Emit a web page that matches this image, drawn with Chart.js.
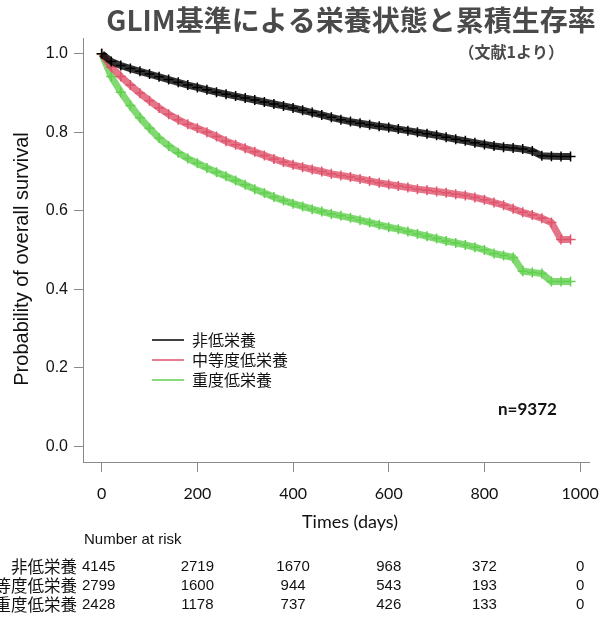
<!DOCTYPE html>
<html>
<head>
<meta charset="utf-8">
<script src="https://cdn.jsdelivr.net/npm/chart.js@4.4.1/dist/chart.umd.min.js"></script>
<style>
  html, body { margin: 0; padding: 0; background: #fff; }
  canvas { display: block; }
</style>
</head>
<body>
<canvas id="km" width="611" height="617"></canvas>
<script>
// survival, every 20 days
const days = [0, 20, 40, 60, 80, 100, 120, 140, 160, 180,
  200, 220, 240, 260, 280, 300, 320, 340, 360, 380,
  400, 420, 440, 460, 480, 500, 520, 540, 560, 580,
  600, 620, 640, 660, 680, 700, 720, 740, 760, 780,
  800, 820, 840, 860, 880, 900, 920, 940, 960, 980];

const survNone = [1.000, 0.980, 0.970, 0.962, 0.955, 0.948, 0.941, 0.934, 0.927, 0.920,
  0.914, 0.908, 0.902, 0.897, 0.892, 0.887, 0.882, 0.877, 0.872, 0.867,
  0.862, 0.856, 0.850, 0.844, 0.838, 0.832, 0.827, 0.823, 0.819, 0.815,
  0.812, 0.808, 0.804, 0.800, 0.796, 0.792, 0.787, 0.782, 0.778, 0.773,
  0.769, 0.765, 0.762, 0.760, 0.757, 0.752, 0.740, 0.739, 0.738, 0.738];

const survModerate = [1.000, 0.966, 0.942, 0.920, 0.899, 0.880, 0.862, 0.846, 0.832, 0.820,
  0.810, 0.800, 0.789, 0.777, 0.768, 0.759, 0.750, 0.741, 0.732, 0.724,
  0.717, 0.711, 0.705, 0.700, 0.694, 0.690, 0.686, 0.681, 0.676, 0.671,
  0.667, 0.663, 0.659, 0.655, 0.652, 0.649, 0.646, 0.642, 0.639, 0.634,
  0.628, 0.621, 0.614, 0.605, 0.596, 0.589, 0.581, 0.570, 0.527, 0.527];

const survSevere = [1.000, 0.942, 0.902, 0.868, 0.837, 0.810, 0.785, 0.765, 0.748, 0.733,
  0.721, 0.709, 0.698, 0.688, 0.677, 0.666, 0.655, 0.645, 0.635, 0.626,
  0.618, 0.611, 0.604, 0.598, 0.592, 0.587, 0.582, 0.576, 0.570, 0.564,
  0.558, 0.553, 0.547, 0.541, 0.535, 0.529, 0.523, 0.518, 0.513, 0.507,
  0.500, 0.491, 0.486, 0.481, 0.446, 0.443, 0.440, 0.420, 0.420, 0.420];

const groupNames = ['非低栄養', '中等度低栄養', '重度低栄養'];
const groupColors = ['#000000', '#DF536B', '#61D04F'];

const xTicks = [0, 200, 400, 600, 800, 1000];
const yTicks = [0, 0.2, 0.4, 0.6, 0.8, 1.0];

const riskTimes = [0, 200, 400, 600, 800, 1000];
const riskNone = [4145, 2719, 1670, 968, 372, 0];
const riskModerate = [2799, 1600, 944, 543, 193, 0];
const riskSevere = [2428, 1178, 737, 426, 133, 0];

const jp = '"Noto Sans CJK JP", sans-serif';
const helv = '"Liberation Sans", Arial, sans-serif';
const gill = 'Lato, sans-serif';

function toPoints(vals) {
  return days.map((d, i) => ({ x: d, y: vals[i] }));
}

function fade(hex, a) {
  const n = parseInt(hex.slice(1), 16);
  return `rgba(${n >> 16}, ${(n >> 8) & 255}, ${n & 255}, ${a})`;
}

function kmSet(label, vals, color) {
  return {
    label: label,
    data: toPoints(vals),
    borderColor: fade(color, 0.8),
    backgroundColor: color,
    borderWidth: 7,
    tension: 0,
    pointStyle: 'cross',
    pointRadius: 5,
    pointBorderWidth: 1.5,
    pointBorderColor: color,
    fill: false
  };
}

// titles, legend, n and risk table
const textPlugin = {
  id: 'kmText',
  afterDraw(chart) {
    const ctx = chart.ctx;
    const xs = chart.scales.x;
    ctx.save();

    ctx.fillStyle = '#4a4a4a';
    ctx.textBaseline = 'middle';
    ctx.textAlign = 'center';
    ctx.font = 'bold 28px ' + jp;
    ctx.fillText('GLIM基準による栄養状態と累積生存率', 351, 20);
    ctx.textAlign = 'right';
    ctx.font = 'bold 16px ' + jp;
    ctx.fillText('（文献1より）', 564, 52);

    ctx.fillStyle = '#111';
    ctx.save();
    ctx.translate(22, 259);
    ctx.rotate(-Math.PI / 2);
    ctx.textAlign = 'center';
    ctx.font = '20px ' + helv;
    ctx.fillText('Probability of overall survival', 0, 0);
    ctx.restore();

    ctx.textAlign = 'center';
    ctx.font = '18px ' + gill;
    ctx.fillText('Times (days)', 350, 522);

    ctx.textAlign = 'left';
    ctx.font = 'bold 17px ' + gill;
    ctx.fillText('n=9372', 498, 410);

    // legend
    const legendY = [340, 360, 380];
    groupNames.forEach((name, i) => {
      ctx.strokeStyle = groupColors[i];
      ctx.lineWidth = 1.5;
      ctx.beginPath();
      ctx.moveTo(152, legendY[i]);
      ctx.lineTo(184, legendY[i]);
      ctx.stroke();
      ctx.fillStyle = '#111';
      ctx.textAlign = 'left';
      ctx.font = '16px ' + jp;
      ctx.fillText(name, 192, legendY[i]);
    });

    // number at risk
    ctx.fillStyle = '#111';
    ctx.textAlign = 'left';
    ctx.font = '15px ' + helv;
    ctx.fillText('Number at risk', 84, 540);

    const rows = [riskNone, riskModerate, riskSevere];
    const rowY = [567, 586, 605];
    rows.forEach((row, r) => {
      ctx.textAlign = 'right';
      ctx.font = '16.5px ' + jp;
      ctx.fillText(groupNames[r], 77, rowY[r]);
      ctx.textAlign = 'center';
      ctx.font = '15px ' + helv;
      row.forEach((n, i) => {
        ctx.fillText(String(n), xs.getPixelForValue(riskTimes[i]) - (i === 0 ? 3 : 0), rowY[r]);
      });
    });

    ctx.restore();
  }
};

new Chart(document.getElementById('km'), {
  type: 'line',
  data: {
    datasets: [
      kmSet(groupNames[0], survNone, groupColors[0]),
      kmSet(groupNames[1], survModerate, groupColors[1]),
      kmSet(groupNames[2], survSevere, groupColors[2])
    ]
  },
  options: {
    responsive: false,
    animation: false,
    devicePixelRatio: 1,
    layout: { padding: { top: 38, right: 17, left: 0, bottom: 0 } },
    plugins: {
      legend: { display: false },
      tooltip: { enabled: false }
    },
    scales: {
      x: {
        type: 'linear',
        min: -39,
        max: 1019,
        afterFit(scale) { scale.height = 155; },
        afterBuildTicks(scale) { scale.ticks = xTicks.map(v => ({ value: v })); },
        border: { display: true, color: '#8a8a8a', width: 1 },
        grid: { drawOnChartArea: false, drawTicks: true, tickLength: 10, color: '#8a8a8a' },
        ticks: {
          color: '#111',
          font: { family: gill, size: 16 },
          padding: 12,
          maxRotation: 0,
          callback: v => String(v)
        }
      },
      y: {
        min: -0.04,
        max: 1.04,
        afterFit(scale) { scale.width = 83; },
        afterBuildTicks(scale) { scale.ticks = yTicks.map(v => ({ value: v })); },
        border: { display: true, color: '#8a8a8a', width: 1 },
        grid: { drawOnChartArea: false, drawTicks: true, tickLength: 9, color: '#8a8a8a' },
        ticks: {
          color: '#111',
          font: { family: helv, size: 16 },
          padding: 6,
          callback: v => v.toFixed(1)
        }
      }
    }
  },
  plugins: [textPlugin]
});
</script>
</body>
</html>
